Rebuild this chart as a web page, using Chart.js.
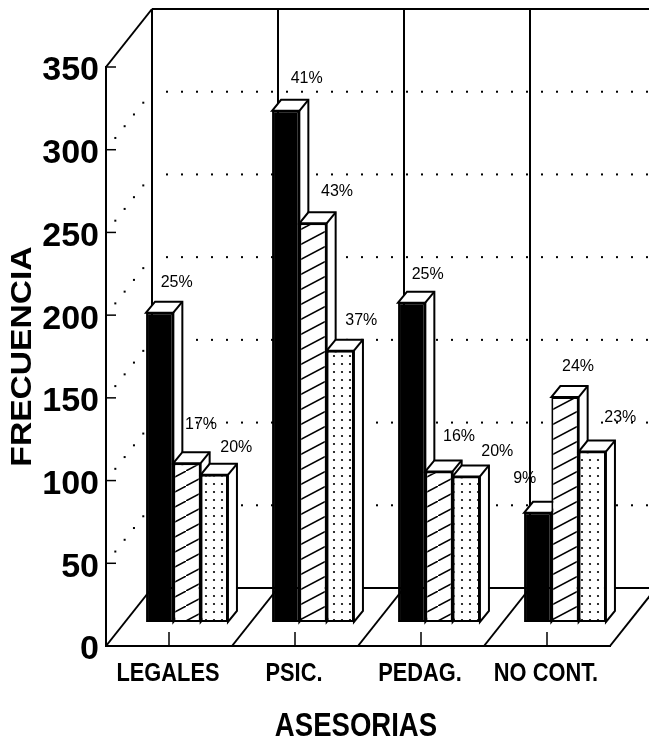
<!DOCTYPE html>
<html>
<head>
<meta charset="utf-8">
<style>
  html, body { margin: 0; padding: 0; background: #fff; }
  canvas { display: block; }
</style>
<script src="https://cdn.jsdelivr.net/npm/chart.js@4"></script>
</head>
<body>
<canvas id="chart" width="649" height="740"></canvas>
<script>
const categories = ['LEGALES', 'PSIC.', 'PEDAG.', 'NO CONT.'];
const blackValues = [187, 309, 193, 66];
const hatchedValues = [96, 241, 91, 136];
const dottedValues = [89, 164, 88, 103];
const blackPercents = ['25%', '41%', '25%', '9%'];
const hatchedPercents = ['17%', '43%', '16%', '24%'];
const dottedPercents = ['20%', '37%', '20%', '23%'];
const yTicks = [0, 50, 100, 150, 200, 250, 300, 350];
const xTitle = 'ASESORIAS';
const yTitle = 'FRECUENCIA';

// label offsets from the top centre of each bar
const labelOffsets = [
    [[17, -30], [21, -32], [16, -28], [-13, -34]],
    [[14, -39], [24, -32], [20, -35], [13, -30]],
    [[22, -27], [21, -30], [31, -25], [28, -34]]
];
const percents = [blackPercents, hatchedPercents, dottedPercents];

// depth of the whole box, of the bars, and where the bars stand inside the box
const boxDx = 46, boxDy = -58;
const barDx = 9, barDy = -11;
const barShiftX = 18, barShiftY = -24;

function hatchPattern() {
    const c = document.createElement('canvas');
    c.width = 28; c.height = 15;
    const g = c.getContext('2d');
    g.fillStyle = '#fff';
    g.fillRect(0, 0, 28, 15);
    g.strokeStyle = '#000';
    g.lineWidth = 1.5;
    g.beginPath();
    g.moveTo(-2, 16);
    g.lineTo(30, -1);
    g.stroke();
    return g.createPattern(c, 'repeat');
}

function dotPattern() {
    const c = document.createElement('canvas');
    c.width = 8; c.height = 8;
    const g = c.getContext('2d');
    g.fillStyle = '#fff';
    g.fillRect(0, 0, 8, 8);
    g.fillStyle = '#000';
    g.beginPath();
    g.arc(4, 4, 1.1, 0, Math.PI * 2);
    g.fill();
    return g.createPattern(c, 'repeat');
}

function line(ctx, x1, y1, x2, y2) {
    ctx.beginPath();
    ctx.moveTo(x1, y1);
    ctx.lineTo(x2, y2);
    ctx.stroke();
}

function dots(ctx, x1, y1, x2, y2, step) {
    const len = Math.hypot(x2 - x1, y2 - y1);
    const n = Math.floor(len / step);
    ctx.fillStyle = '#000';
    for (let i = 1; i <= n; i++) {
        const t = i * step / len;
        ctx.fillRect(x1 + (x2 - x1) * t - 1, y1 + (y2 - y1) * t - 1, 2, 2);
    }
}

// the original lettering is condensed or stretched, so text gets a horizontal scale
function scaledText(ctx, text, x, y, font, sx, angle) {
    ctx.save();
    ctx.translate(x, y);
    ctx.rotate(angle || 0);
    ctx.scale(sx, 1);
    ctx.font = font;
    ctx.fillStyle = '#000';
    ctx.textAlign = 'center';
    ctx.textBaseline = 'middle';
    ctx.fillText(text, 0, 0);
    ctx.restore();
}

const box3d = {
    id: 'box3d',
    beforeDatasetsDraw(chart) {
        const ctx = chart.ctx;
        const a = chart.chartArea;
        const yScale = chart.scales.y;
        const xScale = chart.scales.x;
        const step = a.width / categories.length;
        ctx.save();
        ctx.strokeStyle = '#000';
        ctx.lineWidth = 2;
        // walls and floor
        line(ctx, a.left, a.top, a.left + boxDx, a.top + boxDy);
        line(ctx, a.left + boxDx, a.top + boxDy, 649, a.top + boxDy);
        line(ctx, a.left + boxDx, a.top + boxDy, a.left + boxDx, a.bottom + boxDy);
        line(ctx, a.left + boxDx, a.bottom + boxDy, 649, a.bottom + boxDy);
        for (let i = 0; i <= categories.length; i++) {
            const x = a.left + step * i;
            line(ctx, x, a.bottom, x + boxDx, a.bottom + boxDy);
            if (i > 0 && i < categories.length) line(ctx, x + boxDx, a.top + boxDy, x + boxDx, a.bottom + boxDy);
        }
        // tick marks on the front edges
        ctx.lineWidth = 1.5;
        yTicks.forEach(v => {
            if (v > 0) line(ctx, a.left, yScale.getPixelForValue(v), a.left + 10, yScale.getPixelForValue(v));
        });
        categories.forEach((c, i) => {
            const x = xScale.getPixelForValue(i);
            line(ctx, x, a.bottom, x, a.bottom - 14);
        });
        // dotted gridlines on left and back wall
        yTicks.forEach(v => {
            if (v === 0 || v === 350) return;
            const y = yScale.getPixelForValue(v);
            dots(ctx, a.left, y, a.left + boxDx, y + boxDy, 15);
            dots(ctx, a.left + boxDx, y + boxDy, 649, y + boxDy, 15);
        });
        // side and top faces of the bars, left to right
        ctx.lineWidth = 2;
        chart.data.datasets.forEach((ds, d) => {
            chart.getDatasetMeta(d).data.forEach(bar => {
                const l = bar.x - bar.width / 2 + barShiftX;
                const r = bar.x + bar.width / 2 + barShiftX;
                const t = bar.y + barShiftY;
                const b = bar.base + barShiftY;
                ctx.beginPath();
                ctx.moveTo(l, t);
                ctx.lineTo(l + barDx, t + barDy);
                ctx.lineTo(r + barDx, t + barDy);
                ctx.lineTo(r + barDx, b + barDy);
                ctx.lineTo(r, b);
                ctx.lineTo(r, t);
                ctx.closePath();
                ctx.fillStyle = '#fff';
                ctx.fill();
                ctx.stroke();
                line(ctx, r, t, r + barDx, t + barDy);
            });
        });
        ctx.restore();
        // the library draws the bar fronts shifted into the box
        ctx.save();
        ctx.translate(barShiftX, barShiftY);
    },
    afterDatasetsDraw(chart) {
        const ctx = chart.ctx;
        const a = chart.chartArea;
        ctx.restore();
        percents.forEach((list, d) => {
            chart.getDatasetMeta(d).data.forEach((bar, i) => {
                const off = labelOffsets[d][i];
                scaledText(ctx, list[i], bar.x + barShiftX + off[0], bar.y + barShiftY + off[1], '16px "Liberation Sans"', 1);
            });
        });
        categories.forEach((c, i) => {
            scaledText(ctx, c, chart.scales.x.getPixelForValue(i) - 1, 674, 'bold 25px "Liberation Sans"', 0.873);
        });
        scaledText(ctx, xTitle, (a.left + a.right) / 2 - 2, 727, 'bold 33px "Liberation Sans"', 0.835);
        scaledText(ctx, yTitle, 22.5, (a.top + a.bottom) / 2, 'bold 30px "Liberation Sans"', 1.12, -Math.PI / 2);
    }
};

new Chart(document.getElementById('chart').getContext('2d'), {
    type: 'bar',
    data: {
        labels: categories,
        datasets: [
            { data: blackValues, backgroundColor: '#000', borderColor: '#000', borderWidth: 2, borderSkipped: false },
            { data: hatchedValues, backgroundColor: hatchPattern(), borderColor: '#000', borderWidth: 2, borderSkipped: false },
            { data: dottedValues, backgroundColor: dotPattern(), borderColor: '#000', borderWidth: 2, borderSkipped: false }
        ]
    },
    options: {
        responsive: false,
        animation: false,
        categoryPercentage: 0.65,
        barPercentage: 1,
        layout: { padding: { left: 0, top: 67, right: 39, bottom: 0 } },
        plugins: { legend: { display: false }, tooltip: { enabled: false } },
        scales: {
            x: {
                grid: { display: false },
                border: { color: '#000', width: 2 },
                ticks: { display: false },
                afterFit(scale) { scale.height = 94; }
            },
            y: {
                min: 0,
                max: 350,
                grid: { display: false, tickLength: 7 },
                border: { color: '#000', width: 2 },
                afterBuildTicks(scale) { scale.ticks = yTicks.map(v => ({ value: v })); },
                ticks: { color: '#000', padding: 0, labelOffset: 4, font: { family: '"Liberation Sans"', weight: 'bold', size: 34 } },
                afterFit(scale) { scale.width = 106; }
            }
        }
    },
    plugins: [box3d]
});
</script>
</body>
</html>
